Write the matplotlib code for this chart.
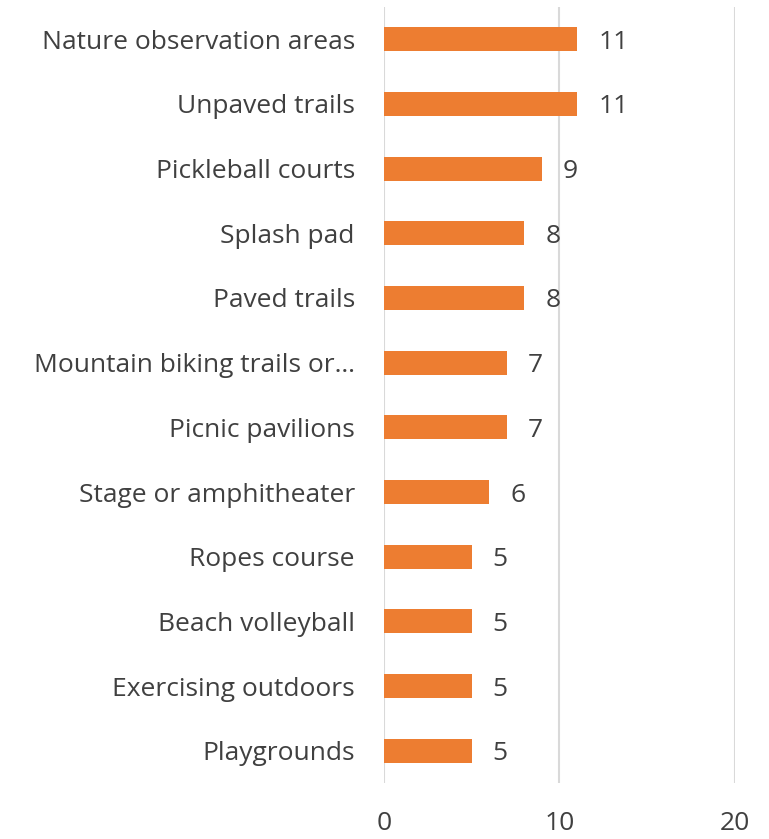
import matplotlib.pyplot as plt

categories = ['Nature observation areas', 'Unpaved trails', 'Pickleball courts', 'Splash pad',
              'Paved trails', 'Mountain biking trails or…', 'Picnic pavilions',
              'Stage or amphitheater', 'Ropes course', 'Beach volleyball',
              'Exercising outdoors', 'Playgrounds']
counts = [11, 11, 9, 8, 8, 7, 7, 6, 5, 5, 5, 5]
x_ticks = [0, 10, 20]

plt.rcParams['font.family'] = ['Open Sans', 'DejaVu Sans']
text_color = '#404040'

fig = plt.figure(figsize=(7.69, 8.39), dpi=100)
ax = fig.add_axes([0.4993, 0.0667, 0.4565, 0.925])

pos = list(range(len(categories)))
ax.barh(pos, counts, height=0.37, color='#ED7D31', zorder=3)
for p, v in zip(pos, counts):
    ax.text(v + 1.2, p, str(v), va='center_baseline', ha='left', fontsize=19, color=text_color)

ax.set_ylim(len(categories) - 0.5, -0.5)
ax.set_xlim(0, 20)
ax.set_xticks(x_ticks)
ax.set_yticks(pos)
ax.set_yticklabels(categories)
ax.tick_params(axis='y', length=0, pad=21, labelsize=19, labelcolor=text_color)
ax.tick_params(axis='x', length=0, pad=20, labelsize=19, labelcolor=text_color)
ax.grid(axis='x', color='#D9D9D9', linewidth=1.5, zorder=0)
for s in ax.spines.values():
    s.set_visible(False)

fig.savefig('out.png', dpi=100)
